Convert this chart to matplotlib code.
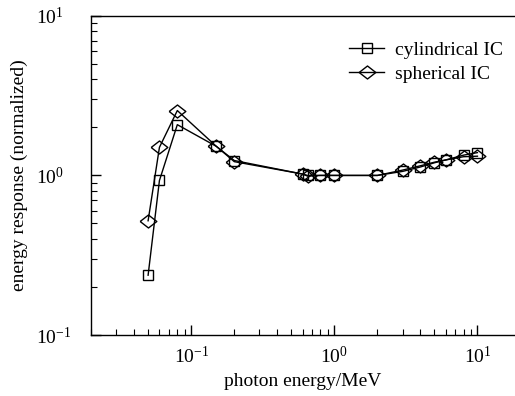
import matplotlib
matplotlib.use('Agg')
import matplotlib.pyplot as plt
from matplotlib.ticker import LogLocator, NullFormatter

plt.rcParams['font.family'] = 'Liberation Serif'
plt.rcParams['mathtext.fontset'] = 'custom'
plt.rcParams['mathtext.rm'] = 'Liberation Serif'
plt.rcParams['mathtext.it'] = 'Liberation Serif:italic'

# photon energy (MeV)
energy = [0.05, 0.06, 0.08, 0.15, 0.2, 0.6, 0.65, 0.8, 1.0, 2.0, 3.0, 4.0, 5.0, 6.0, 8.0, 10.0]
cylindrical = [0.237, 0.93, 2.08, 1.52, 1.24, 1.02, 1.0, 1.0, 1.0, 1.0, 1.06, 1.13, 1.2, 1.25, 1.34, 1.39]
spherical = [0.52, 1.50, 2.55, 1.52, 1.22, 1.02, 0.99, 1.0, 1.0, 1.0, 1.08, 1.15, 1.21, 1.25, 1.31, 1.32]

# wide diamond, a bit flatter than matplotlib's 'D'
diamond = [(-1, 0), (0, 0.78), (1, 0), (0, -0.78), (-1, 0)]

fig = plt.figure(figsize=(5.15, 3.96), dpi=100)
ax = fig.add_axes([0.177, 0.154, 0.821, 0.806])

ax.plot(energy, cylindrical, color='black', lw=1.0, marker='s', ms=7,
        mfc='none', mec='black', mew=1.0, label='cylindrical IC')
ax.plot(energy, spherical, color='black', lw=1.0, marker=diamond, ms=12,
        mfc='none', mec='black', mew=1.0, label='spherical IC')

ax.set_xscale('log')
ax.set_yscale('log')
ax.set_xlim(0.02, 18)
ax.set_ylim(0.1, 10)

ax.spines['right'].set_visible(False)
for s in ax.spines.values():
    s.set_linewidth(1.0)

ax.xaxis.set_minor_locator(LogLocator(base=10, subs=range(2, 10)))
ax.yaxis.set_minor_locator(LogLocator(base=10, subs=range(2, 10)))
ax.xaxis.set_minor_formatter(NullFormatter())
ax.yaxis.set_minor_formatter(NullFormatter())
ax.tick_params(which='both', direction='in', top=False, right=False, labelsize=14)
ax.tick_params(which='major', length=7, width=1.0)
ax.tick_params(which='minor', length=4, width=0.8)
ax.tick_params(axis='x', which='major', pad=8)
# y tick labels are left-aligned in the original
ax.tick_params(axis='y', which='major', pad=39.5)
for lbl in ax.get_yticklabels():
    lbl.set_horizontalalignment('left')

ax.set_xlabel('photon energy/MeV', fontsize=14, labelpad=4)
ax.set_ylabel('energy response (normalized)', fontsize=14, labelpad=6)

ax.legend(loc='upper right', frameon=False, fontsize=14, handlelength=1.8,
          handletextpad=0.55, borderaxespad=0.6, labelspacing=0.3,
          bbox_to_anchor=(1.02, 0.98))

fig.savefig('out.png', dpi=100)
